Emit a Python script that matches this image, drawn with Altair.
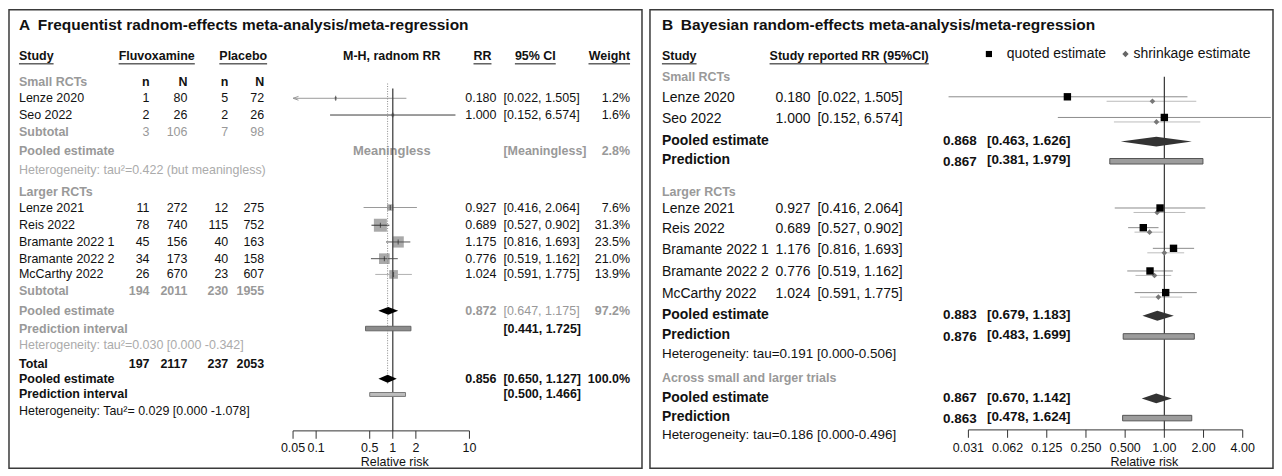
import altair as alt
import pandas as pd

# ---------------- data ----------------
STUDIES = ["Lenze 2020", "Seo 2022", "Lenze 2021", "Reis 2022",
           "Bramante 2022 1", "Bramante 2022 2", "McCarthy 2022"]
FLU_n = [1, 2, 11, 78, 45, 34, 26]
FLU_N = [80, 26, 272, 740, 156, 173, 670]
PLA_n = [5, 2, 12, 115, 40, 40, 23]
PLA_N = [72, 26, 275, 752, 163, 158, 607]
RR_A = [0.180, 1.000, 0.927, 0.689, 1.175, 0.776, 1.024]
RR_B = [0.180, 1.000, 0.927, 0.689, 1.176, 0.776, 1.024]
CI_LO = [0.022, 0.152, 0.416, 0.527, 0.816, 0.519, 0.591]
CI_HI = [1.505, 6.574, 2.064, 0.902, 1.693, 1.162, 1.775]
WEIGHT = [1.2, 1.6, 7.6, 31.3, 23.5, 21.0, 13.9]
SHRINK = [0.81, 0.87, 0.88, 0.77, 1.00, 0.84, 0.90]
SHRINK_LO = [0.36, 0.41, 0.58, 0.59, 0.74, 0.60, 0.65]
SHRINK_HI = [1.76, 1.89, 1.45, 0.98, 1.42, 1.13, 1.37]

SUBTOTAL_SMALL = [3, 106, 7, 98]
SUBTOTAL_LARGE = [194, 2011, 230, 1955]
TOTAL = [197, 2117, 237, 2053]

A_SMALL_W = 2.8
A_POOL_LARGE = [0.872, 0.647, 1.175]
A_POOL_LARGE_W = 97.2
A_PRED_LARGE = [0.441, 1.725]
A_POOL_TOTAL = [0.856, 0.650, 1.127]
A_POOL_TOTAL_W = 100.0
A_PRED_TOTAL = [0.500, 1.466]

B_POOL_SMALL = [0.868, 0.463, 1.626]
B_PRED_SMALL = [0.867, 0.381, 1.979]
B_POOL_LARGE = [0.883, 0.679, 1.183]
B_PRED_LARGE = [0.876, 0.483, 1.699]
B_POOL_ALL = [0.867, 0.670, 1.142]
B_PRED_ALL = [0.863, 0.478, 1.624]

A_HET = ["Heterogeneity: tau\u00b2=0.422 (but meaningless)",
         "Heterogeneity: tau\u00b2=0.030 [0.000 -0.342]",
         "Heterogeneity: Tau\u00b2= 0.029 [0.000 -1.078]"]
B_HET = ["Heterogeneity: tau=0.191 [0.000-0.506]",
         "Heterogeneity: tau=0.186 [0.000-0.496]"]

A_TICKS = [0.05, 0.1, 0.5, 1, 2, 10]
A_TICK_LABELS = ["0.05", "0.1", "0.5", "1", "2", "10"]
B_TICKS = [0.03125, 0.0625, 0.125, 0.25, 0.5, 1, 2, 4]
B_TICK_LABELS = ["0.031", "0.062", "0.125", "0.250", "0.500", "1.00", "2.00", "4.00"]

# ---------------- layout / style ----------------
FONT = "Liberation Sans"
INK = "#111111"
GREY = "#999999"
LIGHT = "#ababab"

W_A, W_B, H = 635, 625, 460
A_LEFT, B_LEFT, TOP, BOTTOM = 8, 649, 7, 473
A_ONE_PX, A_DECADE_PX = 393.0, 76.9
B_ONE_PX, B_DECADE_PX = 1165.0, 130.6

A_ROW = {"title": 23, "head": 54, "small": 80, "Lenze 2020": 97, "Seo 2022": 114,
         "sub_s": 131, "pool_s": 151, "het_s": 170, "large": 192, "Lenze 2021": 208,
         "Reis 2022": 226, "Bramante 2022 1": 243, "Bramante 2022 2": 260,
         "McCarthy 2022": 276, "sub_l": 293, "pool_l": 313, "pred_l": 331, "het_l": 348,
         "total": 367, "pool_t": 382, "pred_t": 398, "het_t": 415,
         "axis": 435, "tick_end": 443, "ticklab": 452, "axtitle": 467,
         "ref_top": 87, "dot_top": 82, "dot_bot": 387}
B_ROW = {"title": 23, "head": 54, "small": 75, "Lenze 2020": 97, "Seo 2022": 118,
         "pool_s": 140, "pred_s": 160, "large": 192, "Lenze 2021": 210, "Reis 2022": 230,
         "Bramante 2022 1": 251, "Bramante 2022 2": 274, "McCarthy 2022": 296,
         "pool_l": 317, "pred_l": 338, "het_l": 357, "across": 381, "pool_a": 402,
         "pred_a": 421, "het_a": 439, "axis": 434, "tick_end": 442, "ticklab": 452,
         "axtitle": 467, "ref_top": 75, "legend": 52}
A_COL = dict(study=18, fn=149, fN=187, pn=228, pN=264, mh=392, rr=497, ci=504, wt=631, axt=395)
B_COL = dict(study=661, rr=775, ci=817, pe=943, pci=987, axt=1145,
             leg_sq=989, leg_sq_t=1000, leg_di=1126, leg_di_t=1134)
A_LINE_COLORS = ["#9a9a9a", "#3a3a3a", "#9a9a9a", "#333333", "#555555", "#555555", "#b0b0b0"]

BOLD_W = {"S": 667, "t": 333, "u": 611, "d": 611, "y": 556, "F": 611, "l": 278, "v": 556,
          "o": 611, "x": 556, "a": 556, "m": 889, "i": 278, "n": 611, "e": 556, "P": 667,
          "c": 556, "b": 611, "R": 722, "9": 556, "5": 556, "%": 889, " ": 278, "C": 722,
          "I": 278, "W": 944, "g": 611, "h": 611, "r": 389, "p": 611, "(": 333, ")": 333}


def bold_width(s, size):
    return sum(BOLD_W.get(c, 556) for c in s) * size / 1000.0


def y_scale():
    return alt.Scale(domain=[TOP, BOTTOM], reverse=True, nice=False, zero=False)


def lin_scale(left, w):
    return alt.Scale(domain=[left, left + w], nice=False, zero=False)


def log_scale(one, dec, left, w):
    return alt.Scale(type="log", nice=False,
                     domain=[10 ** ((left - one) / dec), 10 ** ((left + w - one) / dec)])


def Y(field):
    return alt.Y(f"{field}:Q", scale=y_scale(), axis=None)


def add(lst, x, y, text, align="left", bold=False, color=INK, size=12.5, dy=0):
    lst.append(dict(x=x, y=y, text=text, align=align, bold=bold, color=color,
                    size=size, dy=dy))


def text_layers(items, xs):
    df = pd.DataFrame(items)
    layers = []
    for (align, bold, size, dy), g in df.groupby(["align", "bold", "size", "dy"]):
        layers.append(
            alt.Chart(g[["x", "y", "text", "color"]].reset_index(drop=True))
            .mark_text(align=align, baseline="middle", font=FONT, fontSize=float(size),
                       fontWeight="bold" if bold else "normal", dy=float(dy))
            .encode(x=alt.X("x:Q", scale=xs, axis=None), y=Y("y"),
                    text="text:N", color=alt.Color("color:N", scale=None)))
    return layers


def underline_layer(heads, y, size, xs):
    rows = []
    for txt, x, al in heads:
        w = bold_width(txt, size)
        x1 = x if al == "left" else (x - w / 2 if al == "center" else x - w)
        rows.append(dict(x1=x1, x2=x1 + w, y=y))
    return (alt.Chart(pd.DataFrame(rows)).mark_rule(color=INK, strokeWidth=1)
            .encode(x=alt.X("x1:Q", scale=xs, axis=None), x2="x2:Q", y=Y("y")))


def diamond_rows(key, est, lo, hi, yc, h):
    return [dict(id=key, x=lo, ya=yc, yb=yc),
            dict(id=key, x=est, ya=yc - h, yb=yc + h),
            dict(id=key, x=hi, ya=yc, yb=yc)]


# =================== Panel A ===================
XS_A = lin_scale(A_LEFT, W_A)
LOG_A = log_scale(A_ONE_PX, A_DECADE_PX, A_LEFT, W_A)


def XA(f):
    return alt.X(f"{f}:Q", scale=LOG_A, axis=None)


tA = []
add(tA, A_COL["study"], A_ROW["title"],
    "A\u2002Frequentist radnom-effects meta-analysis/meta-regression", bold=True, size=15.5)
A_HEAD = [("Study", A_COL["study"], "left"), ("Fluvoxamine", 118, "left"),
          ("Placebo", 219, "left"), ("RR", 483, "center"), ("95% CI", 536, "center"),
          ("Weight", A_COL["wt"], "right")]
for txt, x, al in A_HEAD:
    add(tA, x, A_ROW["head"], txt, align=al, bold=True)
add(tA, A_COL["mh"], A_ROW["head"], "M-H, radnom RR", align="center", bold=True)
add(tA, A_COL["study"], A_ROW["small"], "Small RCTs", bold=True, color=GREY)
NCOLS = ["fn", "fN", "pn", "pN"]
for key, lab in zip(NCOLS, ["n", "N", "n", "N"]):
    add(tA, A_COL[key], A_ROW["small"], lab, align="right", bold=True)
for i, s in enumerate(STUDIES):
    y = A_ROW[s]
    add(tA, A_COL["study"], y, s)
    for key, val in zip(NCOLS, [FLU_n[i], FLU_N[i], PLA_n[i], PLA_N[i]]):
        add(tA, A_COL[key], y, str(val), align="right")
    add(tA, A_COL["rr"], y, f"{RR_A[i]:.3f}", align="right")
    add(tA, A_COL["ci"], y, f"[{CI_LO[i]:.3f}, {CI_HI[i]:.3f}]")
    add(tA, A_COL["wt"], y, f"{WEIGHT[i]:.1f}%", align="right")
add(tA, A_COL["study"], A_ROW["sub_s"], "Subtotal", bold=True, color=GREY)
for key, val in zip(NCOLS, SUBTOTAL_SMALL):
    add(tA, A_COL[key], A_ROW["sub_s"], str(val), align="right", color=GREY)
add(tA, A_COL["study"], A_ROW["pool_s"], "Pooled estimate", bold=True, color=GREY)
add(tA, A_COL["mh"], A_ROW["pool_s"], "Meaningless", align="center", bold=True, color=GREY, size=13)
add(tA, A_COL["ci"], A_ROW["pool_s"], "[Meaningless]", bold=True, color=GREY)
add(tA, A_COL["wt"], A_ROW["pool_s"], f"{A_SMALL_W:.1f}%", align="right", bold=True, color=GREY)
add(tA, A_COL["study"], A_ROW["het_s"], A_HET[0], color=LIGHT)
add(tA, A_COL["study"], A_ROW["large"], "Larger RCTs", bold=True, color=GREY)
add(tA, A_COL["study"], A_ROW["sub_l"], "Subtotal", bold=True, color=GREY)
for key, val in zip(NCOLS, SUBTOTAL_LARGE):
    add(tA, A_COL[key], A_ROW["sub_l"], str(val), align="right", bold=True, color=GREY)
add(tA, A_COL["study"], A_ROW["pool_l"], "Pooled estimate", bold=True, color=GREY)
add(tA, A_COL["rr"], A_ROW["pool_l"], f"{A_POOL_LARGE[0]:.3f}", align="right", bold=True, color=GREY)
add(tA, A_COL["ci"], A_ROW["pool_l"], f"[{A_POOL_LARGE[1]:.3f}, {A_POOL_LARGE[2]:.3f}]", color=GREY)
add(tA, A_COL["wt"], A_ROW["pool_l"], f"{A_POOL_LARGE_W:.1f}%", align="right", bold=True, color=GREY)
add(tA, A_COL["study"], A_ROW["pred_l"], "Prediction interval", bold=True, color=GREY)
add(tA, A_COL["ci"], A_ROW["pred_l"], f"[{A_PRED_LARGE[0]:.3f}, {A_PRED_LARGE[1]:.3f}]", bold=True)
add(tA, A_COL["study"], A_ROW["het_l"], A_HET[1], color=LIGHT)
add(tA, A_COL["study"], A_ROW["total"], "Total", bold=True)
for key, val in zip(NCOLS, TOTAL):
    add(tA, A_COL[key], A_ROW["total"], str(val), align="right", bold=True)
add(tA, A_COL["study"], A_ROW["pool_t"], "Pooled estimate", bold=True)
add(tA, A_COL["rr"], A_ROW["pool_t"], f"{A_POOL_TOTAL[0]:.3f}", align="right", bold=True)
add(tA, A_COL["ci"], A_ROW["pool_t"], f"[{A_POOL_TOTAL[1]:.3f}, {A_POOL_TOTAL[2]:.3f}]", bold=True)
add(tA, A_COL["wt"], A_ROW["pool_t"], f"{A_POOL_TOTAL_W:.1f}%", align="right", bold=True)
add(tA, A_COL["study"], A_ROW["pred_t"], "Prediction interval", bold=True)
add(tA, A_COL["ci"], A_ROW["pred_t"], f"[{A_PRED_TOTAL[0]:.3f}, {A_PRED_TOTAL[1]:.3f}]", bold=True)
add(tA, A_COL["study"], A_ROW["het_t"], A_HET[2])
add(tA, A_COL["axt"], A_ROW["axtitle"], "Relative risk", align="center")

layersA = text_layers(tA, XS_A)
layersA.append(underline_layer(A_HEAD, A_ROW["head"] + 8, 12.5, XS_A))

# study estimates
dfA = pd.DataFrame({"rr": RR_A, "lo": CI_LO, "hi": CI_HI, "w": WEIGHT,
                    "y": [A_ROW[s] for s in STUDIES],
                    "lo_disp": [max(v, A_TICKS[0]) for v in CI_LO],
                    "lc": A_LINE_COLORS})
layersA.append(alt.Chart(dfA).mark_square(color="#a9a9a9", opacity=1).encode(
    x=XA("rr"), y=Y("y"),
    size=alt.Size("w:Q", scale=alt.Scale(domain=[0, max(WEIGHT)], range=[0, 170]), legend=None)))
layersA.append(alt.Chart(dfA).mark_rule(strokeWidth=1).encode(
    x=XA("lo_disp"), x2="hi:Q", y=Y("y"), color=alt.Color("lc:N", scale=None)))
layersA.append(alt.Chart(dfA).mark_tick(orient="vertical", size=5, thickness=1, color="#222222").encode(
    x=XA("rr"), y=Y("y")))
arrows = dfA[dfA["lo"] < A_TICKS[0]]
layersA.append(alt.Chart(arrows).mark_point(shape="M0,0L2,-0.7M0,0L2,0.7", filled=False, size=30,
                                            strokeWidth=1, color="#999999", opacity=1).encode(
    x=XA("lo_disp"), y=Y("y")))

# reference lines
layersA.append(alt.Chart(pd.DataFrame([dict(x=A_POOL_TOTAL[0], y=A_ROW["dot_top"], y2=A_ROW["dot_bot"])]))
               .mark_rule(color="#8a8a8a", strokeDash=[1, 1.5], strokeWidth=1)
               .encode(x=XA("x"), y=Y("y"), y2="y2:Q"))
layersA.append(alt.Chart(pd.DataFrame([dict(x=1, y=A_ROW["ref_top"], y2=A_ROW["axis"])]))
               .mark_rule(color="#444444", strokeWidth=1.3)
               .encode(x=XA("x"), y=Y("y"), y2="y2:Q"))

# pooled diamonds & prediction bars
diaA = diamond_rows("l", A_POOL_LARGE[0], A_POOL_LARGE[1], A_POOL_LARGE[2], A_ROW["pool_l"], 4) + \
       diamond_rows("t", A_POOL_TOTAL[0], A_POOL_TOTAL[1], A_POOL_TOTAL[2], A_ROW["pool_t"], 4)
layersA.append(alt.Chart(pd.DataFrame(diaA)).mark_area(color="black", opacity=1, orient="vertical")
               .encode(x=XA("x"), y=Y("ya"), y2="yb:Q", detail="id:N"))
predA = pd.DataFrame([dict(lo=A_PRED_LARGE[0], hi=A_PRED_LARGE[1], ya=A_ROW["pred_l"] - 2.3,
                           yb=A_ROW["pred_l"] + 2.3, f="#8c8c8c", s="#666666"),
                      dict(lo=A_PRED_TOTAL[0], hi=A_PRED_TOTAL[1], ya=A_ROW["pred_t"] - 2,
                           yb=A_ROW["pred_t"] + 2, f="#bdbdbd", s="#7a7a7a")])
layersA.append(alt.Chart(predA).mark_rect(strokeWidth=1).encode(
    x=XA("lo"), x2="hi:Q", y=Y("ya"), y2="yb:Q",
    fill=alt.Fill("f:N", scale=None), stroke=alt.Stroke("s:N", scale=None)))

# axis
layersA.append(alt.Chart(pd.DataFrame([dict(a=A_TICKS[0], b=A_TICKS[-1], y=A_ROW["axis"])]))
               .mark_rule(color="#333333", strokeWidth=1).encode(x=XA("a"), x2="b:Q", y=Y("y")))
tkA = pd.DataFrame({"t": A_TICKS, "lab": A_TICK_LABELS})
tkA["y"] = A_ROW["axis"]
tkA["y2"] = A_ROW["tick_end"]
tkA["yl"] = A_ROW["ticklab"]
layersA.append(alt.Chart(tkA).mark_rule(color="#333333", strokeWidth=1).encode(
    x=XA("t"), y=Y("y"), y2="y2:Q"))
layersA.append(alt.Chart(tkA).mark_text(font=FONT, fontSize=12.5, align="center", baseline="middle",
                                        color=INK).encode(x=XA("t"), y=Y("yl"), text="lab:N"))

panelA = alt.layer(*layersA).properties(width=W_A, height=H).resolve_scale(x="independent")

# =================== Panel B ===================
XS_B = lin_scale(B_LEFT, W_B)
LOG_B = log_scale(B_ONE_PX, B_DECADE_PX, B_LEFT, W_B)


def XB(f):
    return alt.X(f"{f}:Q", scale=LOG_B, axis=None)


tB = []
add(tB, B_COL["study"], B_ROW["title"],
    "B\u2002Bayesian random-effects meta-analysis/meta-regression", bold=True, size=15.5)
B_HEAD = [("Study", B_COL["study"], "left"), ("Study reported RR (95%CI)", 769, "left")]
for txt, x, al in B_HEAD:
    add(tB, x, B_ROW["head"], txt, align=al, bold=True)
add(tB, B_COL["leg_sq_t"] + 7, B_ROW["legend"], "quoted estimate", size=14)
add(tB, B_COL["leg_di_t"], B_ROW["legend"], "shrinkage estimate", size=14)
add(tB, B_COL["study"], B_ROW["small"], "Small RCTs", bold=True, color=GREY)
for i, s in enumerate(STUDIES):
    y = B_ROW[s]
    add(tB, B_COL["study"], y, s, size=14)
    add(tB, B_COL["rr"], y, f"{RR_B[i]:.3f}", size=14)
    add(tB, B_COL["ci"], y, f"[{CI_LO[i]:.3f}, {CI_HI[i]:.3f}]", size=14)
add(tB, B_COL["study"], B_ROW["large"], "Larger RCTs", bold=True, color=GREY)
for lab_key, pool, pkey in [("pool_s", B_POOL_SMALL, None), ("pred_s", B_PRED_SMALL, 1),
                            ("pool_l", B_POOL_LARGE, None), ("pred_l", B_PRED_LARGE, 1),
                            ("pool_a", B_POOL_ALL, None), ("pred_a", B_PRED_ALL, 1)]:
    y = B_ROW[lab_key]
    lab = "Prediction" if pkey else "Pooled estimate"
    add(tB, B_COL["study"], y, lab, bold=True, size=14)
    add(tB, B_COL["pe"], y, f"{pool[0]:.3f}", bold=True, size=13.5, dy=2 if pkey else 0)
    add(tB, B_COL["pci"], y, f"[{pool[1]:.3f}, {pool[2]:.3f}]", bold=True, size=13.5)
add(tB, B_COL["study"], B_ROW["het_l"], B_HET[0], size=13.5)
add(tB, B_COL["study"], B_ROW["across"], "Across small and larger trials", bold=True, color=GREY)
add(tB, B_COL["study"], B_ROW["het_a"], B_HET[1], size=13.5)
add(tB, B_COL["axt"], B_ROW["axtitle"], "Relative risk", align="center")

layersB = text_layers(tB, XS_B)
layersB.append(underline_layer(B_HEAD, B_ROW["head"] + 8, 12.5, XS_B))

# legend symbols
layersB.append(alt.Chart(pd.DataFrame([dict(x=B_COL["leg_sq"], y=B_ROW["legend"])]))
               .mark_point(shape="square", filled=True, size=38, color="black", opacity=1)
               .encode(x=alt.X("x:Q", scale=XS_B, axis=None), y=Y("y")))
layersB.append(alt.Chart(pd.DataFrame([dict(x=B_COL["leg_di"], y=B_ROW["legend"])]))
               .mark_point(shape="diamond", filled=True, size=40, color="#666666", opacity=1)
               .encode(x=alt.X("x:Q", scale=XS_B, axis=None), y=Y("y")))

dfB = pd.DataFrame({"rr": RR_B, "lo": CI_LO, "hi": CI_HI, "s": SHRINK, "slo": SHRINK_LO,
                    "shi": SHRINK_HI, "y": [B_ROW[s] for s in STUDIES]})
layersB.append(alt.Chart(dfB).mark_rule(color="#8c8c8c", strokeWidth=1, yOffset=-1.5).encode(
    x=XB("lo"), x2="hi:Q", y=Y("y")))
layersB.append(alt.Chart(dfB).mark_rule(color="#bcbcbc", strokeWidth=1, yOffset=3).encode(
    x=XB("slo"), x2="shi:Q", y=Y("y")))
layersB.append(alt.Chart(pd.DataFrame([dict(x=1, y=B_ROW["ref_top"], y2=B_ROW["axis"])]))
               .mark_rule(color="#333333", strokeWidth=1.2)
               .encode(x=XB("x"), y=Y("y"), y2="y2:Q"))
layersB.append(alt.Chart(dfB).mark_point(shape="diamond", filled=True, size=32, color="#777777",
                                         opacity=1, yOffset=3).encode(x=XB("s"), y=Y("y")))
layersB.append(alt.Chart(dfB).mark_point(shape="square", filled=True, size=55, color="black",
                                         opacity=1, yOffset=-1.5).encode(x=XB("rr"), y=Y("y")))

diaB = diamond_rows("s", B_POOL_SMALL[0], B_POOL_SMALL[1], B_POOL_SMALL[2], B_ROW["pool_s"] + 1, 5) + \
       diamond_rows("l", B_POOL_LARGE[0], B_POOL_LARGE[1], B_POOL_LARGE[2], B_ROW["pool_l"] + 1, 5) + \
       diamond_rows("a", B_POOL_ALL[0], B_POOL_ALL[1], B_POOL_ALL[2], B_ROW["pool_a"], 5)
layersB.append(alt.Chart(pd.DataFrame(diaB)).mark_area(color="#333333", opacity=1, orient="vertical")
               .encode(x=XB("x"), y=Y("ya"), y2="yb:Q", detail="id:N"))
predB = pd.DataFrame([dict(lo=p[1], hi=p[2], ya=B_ROW[k] + 1 - 2.8, yb=B_ROW[k] + 1 + 2.8)
                      for k, p in [("pred_s", B_PRED_SMALL), ("pred_l", B_PRED_LARGE),
                                   ("pred_a", B_PRED_ALL)]])
layersB.append(alt.Chart(predB).mark_rect(fill="#9c9c9c", stroke="#555555", strokeWidth=1).encode(
    x=XB("lo"), x2="hi:Q", y=Y("ya"), y2="yb:Q"))

layersB.append(alt.Chart(pd.DataFrame([dict(a=B_TICKS[0], b=B_TICKS[-1], y=B_ROW["axis"])]))
               .mark_rule(color="#333333", strokeWidth=1).encode(x=XB("a"), x2="b:Q", y=Y("y")))
tkB = pd.DataFrame({"t": B_TICKS, "lab": B_TICK_LABELS})
tkB["y"] = B_ROW["axis"]
tkB["y2"] = B_ROW["tick_end"]
tkB["yl"] = B_ROW["ticklab"]
layersB.append(alt.Chart(tkB).mark_rule(color="#333333", strokeWidth=1).encode(
    x=XB("t"), y=Y("y"), y2="y2:Q"))
layersB.append(alt.Chart(tkB).mark_text(font=FONT, fontSize=12.5, align="center", baseline="middle",
                                        color=INK).encode(x=XB("t"), y=Y("yl"), text="lab:N"))

panelB = alt.layer(*layersB).properties(width=W_B, height=H).resolve_scale(x="independent")

chart = (alt.hconcat(panelA, panelB, spacing=6)
         .properties(padding=0, background="white")
         .configure(font=FONT)
         .configure_view(stroke="#3a3a3a", strokeWidth=1.5))

chart.save("out.html", embed_options={"renderer": "svg", "actions": False})
